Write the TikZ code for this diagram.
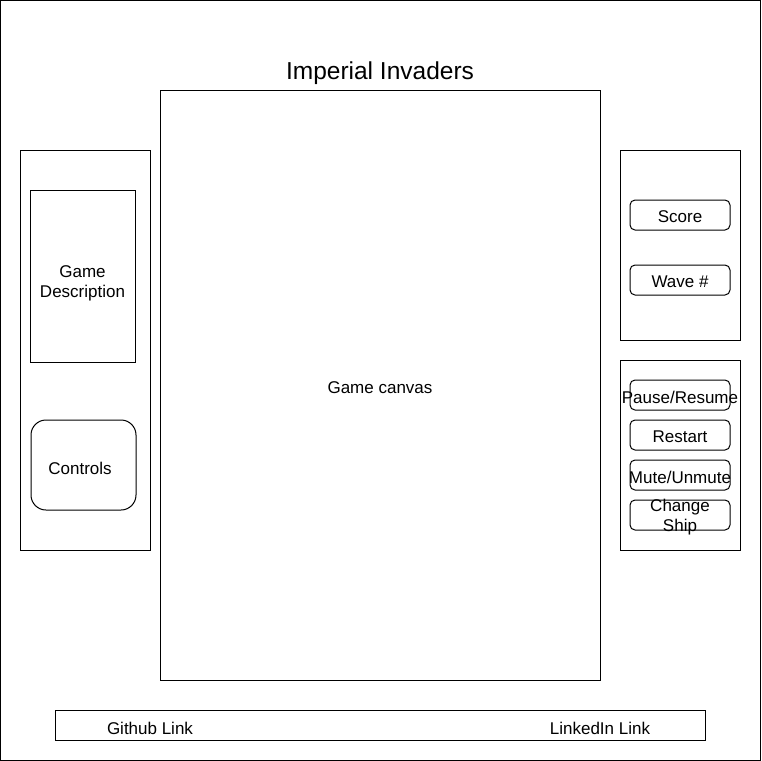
\documentclass[tikz,border=0pt]{standalone}
\usepackage{fontspec}
\setmainfont{Liberation Sans}
\usepackage{tikz}
\usetikzlibrary{positioning}
\tikzset{
  panel/.style={rectangle, draw=black, line width=1pt, inner sep=0pt},
  btn/.style={rectangle, draw=black, line width=1pt, inner sep=0pt,
    rounded corners=5pt, minimum width=100pt, minimum height=30pt},
  lbl/.style={font=\fontsize{17}{20}\selectfont, align=center, inner sep=0pt, yshift=-2pt},
  ttl/.style={font=\fontsize{24.5}{28}\selectfont, inner sep=0pt, yshift=-3pt}
}

\begin{document}
\begin{tikzpicture}[x=1pt, y=-1pt]
  \useasboundingbox (0,0) rectangle (761,761);
  \draw[line width=1pt] (0.5,0.5) rectangle (760,760);

  \node[ttl] (title) at (380,70) {Imperial Invaders};

  % main area
  \node[panel, minimum width=440pt, minimum height=590pt] (canvas) at (380,385) {};
  \node[lbl] (canvaslbl) at (380,386) {Game canvas};

  % left side
  \node[panel, minimum width=130pt, minimum height=400pt] (leftpanel) at (85,350) {};
  \node[panel, minimum width=105pt, minimum height=172pt] (desc) at (82.5,276) {};
  \node[lbl] (desclbl) at (82.5,281) {Game\\Description};
  \node[panel, rounded corners=15pt, minimum width=105pt, minimum height=90pt] (controls) at (83.5,465) {};
  \node[lbl] (controlslbl) at (80,466) {Controls};

  % right side
  \node[panel, minimum width=120pt, minimum height=190pt] (infopanel) at (680,245) {};
  \node[btn, label={[lbl]center:Score}] (score) at (680,215) {};
  \node[btn, label={[lbl]center:Wave \#}] (wave) at (680,280) {};

  \node[panel, minimum width=120pt, minimum height=190pt] (menupanel) at (680,455) {};
  \node[btn, label={[lbl]center:Pause/Resume}] (pause) at (680,395) {};
  \node[btn, label={[lbl]center:Restart}] (restart) at (680,435) {};
  \node[btn, label={[lbl]center:Mute/Unmute}] (mute) at (680,475) {};
  \node[btn, label={[lbl]center:{Change\\Ship}}] (ship) at (680,515) {};

  % footer
  \node[panel, minimum width=650pt, minimum height=30pt] (footer) at (380,725) {};
  \node[lbl] (github) at (150,726) {Github Link};
  \node[lbl] (linkedin) at (600,726) {LinkedIn Link};
\end{tikzpicture}
\end{document}
